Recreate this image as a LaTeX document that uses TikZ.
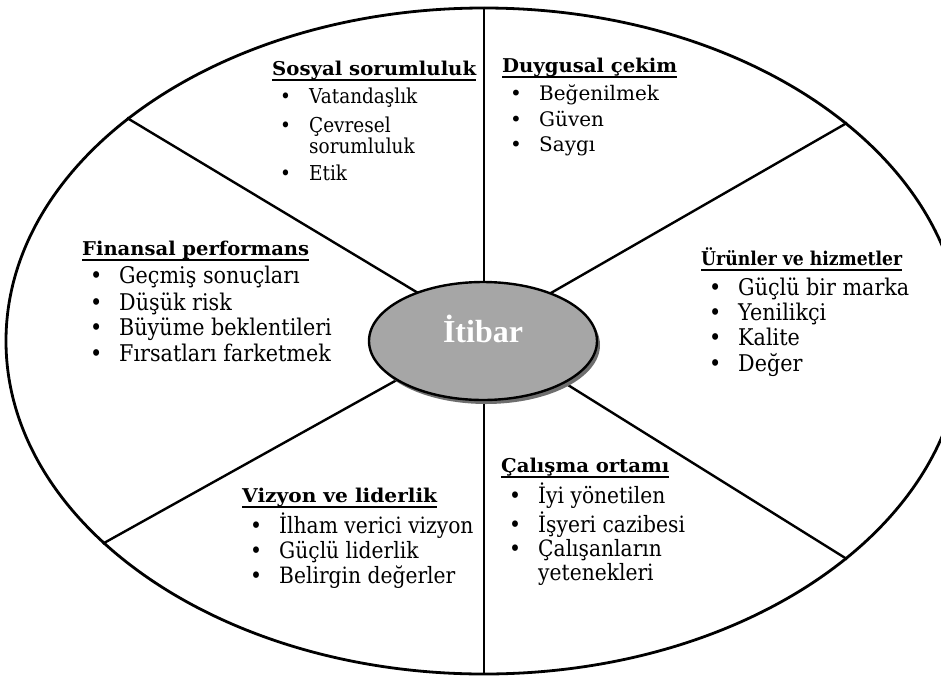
\documentclass[tikz,border=0pt]{standalone}
\usepackage{fontspec}
\usepackage{graphicx}
\setmainfont{DejaVu Serif}
\newfontfamily\fbig{DejaVu Serif}[FakeStretch=0.9]
\newfontfamily\corefont{Liberation Serif}
\usetikzlibrary{shapes.geometric,shadows}
\definecolor{coregray}{HTML}{A6A6A6}
\definecolor{shadowgray}{HTML}{6E6E6E}
\newcommand{\hd}[2]{\rlap{\rule[-5.5pt]{#1}{2pt}}\resizebox{#1}{\height}{\fontsize{19}{20}\selectfont\bfseries #2}}
\newcommand{\bl}{\hspace*{8pt}\makebox[29pt][l]{\textbullet}}
\newcommand{\cont}{\hspace*{37pt}}
\tikzset{
  rimline/.style={line width=2.8pt},
  spoke/.style={line width=2.4pt},
  blk/.style={inner sep=0pt, anchor=base west, align=left},
}
\begin{document}
\begin{tikzpicture}[x=1pt,y=-1pt]
\useasboundingbox (0,0) rectangle (941,675);
\clip (0,0) rectangle (941,675);
\node[ellipse, draw, rimline, minimum width=956pt, minimum height=666pt, inner sep=0pt] (rim) at (484,341) {};
\coordinate (hub) at (483,332);
\draw[spoke] (hub) -- (rim.148.1);
\draw[spoke] (hub) -- (rim.31.4);
\draw[spoke] (hub) -- (rim.208.6);
\draw[spoke] (hub) -- (rim.329.8);
\draw[spoke] (rim.north) -- (rim.south);
\node[ellipse, draw, line width=2.4pt, fill=coregray, minimum width=228pt, minimum height=118pt, inner sep=0pt,
  drop shadow={shadow xshift=3pt, shadow yshift=-4pt, fill=shadowgray, opacity=1}] (core) at (483,341) {};
\node[inner sep=0pt, anchor=base, text=white, font=\corefont\bfseries\fontsize{32}{36}\selectfont] (lbl) at (483,342) {İtibar};

\node[blk, font=\fbig\fontsize{20.5}{25.5}\selectfont] (sosyal) at (272,75) {\begin{tabular}[t]{@{}l@{}}\hd{204pt}{Sosyal sorumluluk}\\[2.5pt]
\bl Vatandaşlık\\[3.5pt]
\bl Çevresel\\[-4.5pt]
\cont sorumluluk\\[1.5pt]
\bl Etik\end{tabular}};

\node[blk, font=\fontsize{20}{25}\selectfont] (duygu) at (502,72) {\begin{tabular}[t]{@{}l@{}}\hd{175pt}{Duygusal çekim}\\[3pt]
\bl Beğenilmek\\[1pt]
\bl Güven\\
\bl Saygı\end{tabular}};

\node[blk, font=\fbig\fontsize{23}{25.5}\selectfont] (finans) at (82,255) {\begin{tabular}[t]{@{}l@{}}\hd{227pt}{Finansal performans}\\[2.5pt]
\bl Geçmiş sonuçları\\[1.5pt]
\bl Düşük risk\\
\bl Büyüme beklentileri\\
\bl Fırsatları farketmek\end{tabular}};

\node[blk, font=\fbig\fontsize{23}{24.5}\selectfont] (urun) at (701,265) {\begin{tabular}[t]{@{}l@{}}\hd{201pt}{Ürünler ve hizmetler}\\[5.5pt]
\bl Güçlü bir marka\\[0.5pt]
\bl Yenilikçi\\
\bl Kalite\\
\bl Değer\end{tabular}};

\node[blk, font=\fbig\fontsize{22.5}{24.5}\selectfont] (vizyon) at (242,502) {\begin{tabular}[t]{@{}l@{}}\hd{195pt}{Vizyon ve liderlik}\\[3.5pt]
\bl İlham verici vizyon\\[0.5pt]
\bl Güçlü liderlik\\
\bl Belirgin değerler\end{tabular}};

\node[blk, font=\fbig\fontsize{22.5}{24}\selectfont] (calisma) at (501,472) {\begin{tabular}[t]{@{}l@{}}\hd{168pt}{Çalışma ortamı}\\[4pt]
\bl İyi yönetilen\\[1pt]
\bl İşyeri cazibesi\\[-1pt]
\bl Çalışanların\\
\cont yetenekleri\end{tabular}};
\end{tikzpicture}
\end{document}
